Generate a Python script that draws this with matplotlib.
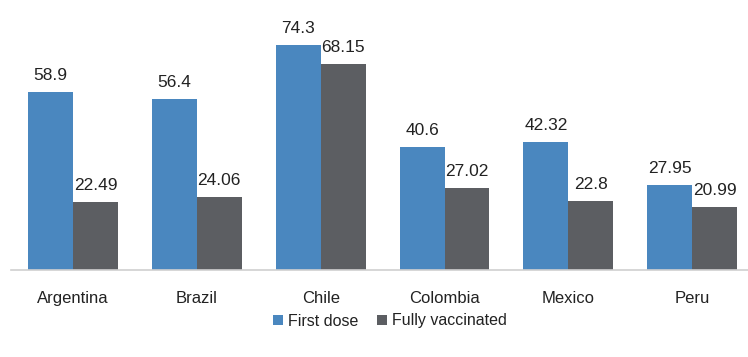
import matplotlib
matplotlib.use("Agg")
import matplotlib.pyplot as plt
from matplotlib import font_manager
import numpy as np

categories = ["Argentina", "Brazil", "Chile", "Colombia", "Mexico", "Peru"]
first_dose = [58.9, 56.4, 74.3, 40.6, 42.32, 27.95]
fully_vaccinated = [22.49, 24.06, 68.15, 27.02, 22.8, 20.99]
first_labels = ["58.9", "56.4", "74.3", "40.6", "42.32", "27.95"]
full_labels = ["22.49", "24.06", "68.15", "27.02", "22.8", "20.99"]

names = {f.name for f in font_manager.fontManager.ttflist}
fam = "Liberation Sans Narrow" if "Liberation Sans Narrow" in names else "Liberation Sans"
plt.rcParams["font.family"] = [fam, "DejaVu Sans"]

W, H = 748, 357
fig = plt.figure(figsize=(W/100, H/100), dpi=100)
ax = fig.add_axes([11/W, 1-270/H, 1-11/W, (270-28)/H])

blue = "#4A87BF"
gray = "#5C5E62"
x = np.arange(len(categories))
w = 0.363
b1 = ax.bar(x - w/2, first_dose, w, color=blue, label="First dose")
b2 = ax.bar(x + w/2, fully_vaccinated, w, color=gray, label="Fully vaccinated")

for xi, v, t in zip(x, first_dose, first_labels):
    ax.annotate(t, (xi - w/2, v), xytext=(0, 9), textcoords="offset pixels",
                ha="center", va="bottom", fontsize=12.5, color="#222222")
for xi, v, t in zip(x, fully_vaccinated, full_labels):
    ax.annotate(t, (xi + w/2, v), xytext=(0, 9), textcoords="offset pixels",
                ha="center", va="bottom", fontsize=12.5, color="#222222")

ax.set_xlim(-0.5, 5.45)
ax.set_ylim(0, 80)
ax.set_xticks(x)
ax.set_xticklabels(categories, fontsize=12, color="#222222")
ax.tick_params(axis="x", length=0, pad=15)
ax.set_yticks([])
for s in ["top", "right", "left"]:
    ax.spines[s].set_visible(False)
ax.spines["bottom"].set_color("#d0d0d0")
ax.spines["bottom"].set_linewidth(1.2)

leg = fig.legend(handles=[b1, b2], loc="center", bbox_to_anchor=(390/W, 1-321/H),
                 ncol=2, frameon=False, fontsize=11.5, handlelength=0.6, handleheight=0.6,
                 handletextpad=0.3, columnspacing=1.2)
for t in leg.get_texts():
    t.set_color("#222222")

fig.savefig("out.png", dpi=100)
